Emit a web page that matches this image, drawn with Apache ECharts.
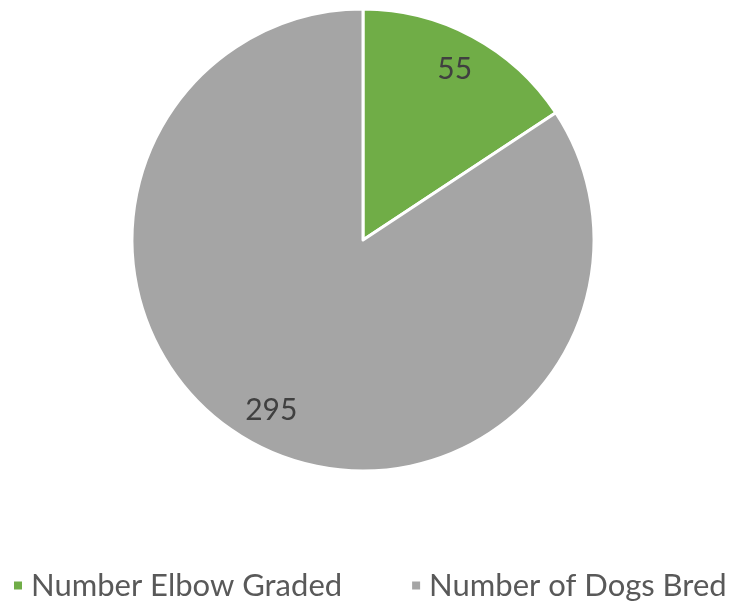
<!DOCTYPE html>
<html><head><meta charset="utf-8">
<script src="https://cdn.jsdelivr.net/npm/echarts@6/dist/echarts.min.js"></script>
<style>html,body{margin:0;padding:0;background:#fff}#c{width:729px;height:607px}</style>
</head><body><div id="c"></div>
<script>
const categories = ["Number Elbow Graded", "Number of Dogs Bred"];
const values = [55, 295];
const colors = ["#70AD47", "#A5A5A5"];

const data = categories.map((n, i) => ({ name: n, value: values[i], itemStyle: { color: colors[i] } }));
const FONT = "Lato";
const chart = echarts.init(document.getElementById('c'));
chart.setOption({
  animation: false,
  legend: {
    data: categories,
    top: 570, left: 12, padding: 0, width: 717,
    icon: 'rect', itemWidth: 10, itemHeight: 10, itemGap: 68,
    textStyle: { fontFamily: FONT, fontSize: 31, color: '#595959', padding: [0, 0, 0, 3] }
  },
  series: [
    {
      type: 'pie', center: [363, 240], radius: [0, 231], startAngle: 90, clockwise: true,
      data: data,
      itemStyle: { borderColor: '#fff', borderWidth: 3 },
      label: { show: false }, labelLine: { show: false }, emphasis: { disabled: true }
    },
    {
      type: 'pie', center: [363, 240], radius: [150, 231], startAngle: 90, clockwise: true, silent: true,
      data: categories.map((n, i) => ({ name: n, value: values[i] })),
      itemStyle: { color: 'rgba(0,0,0,0)' },
      label: { show: true, position: 'inside', formatter: '{c}', fontFamily: FONT, fontSize: 30, color: '#404040' },
      labelLine: { show: false }, emphasis: { disabled: true }
    }
  ]
});
</script></body></html>
